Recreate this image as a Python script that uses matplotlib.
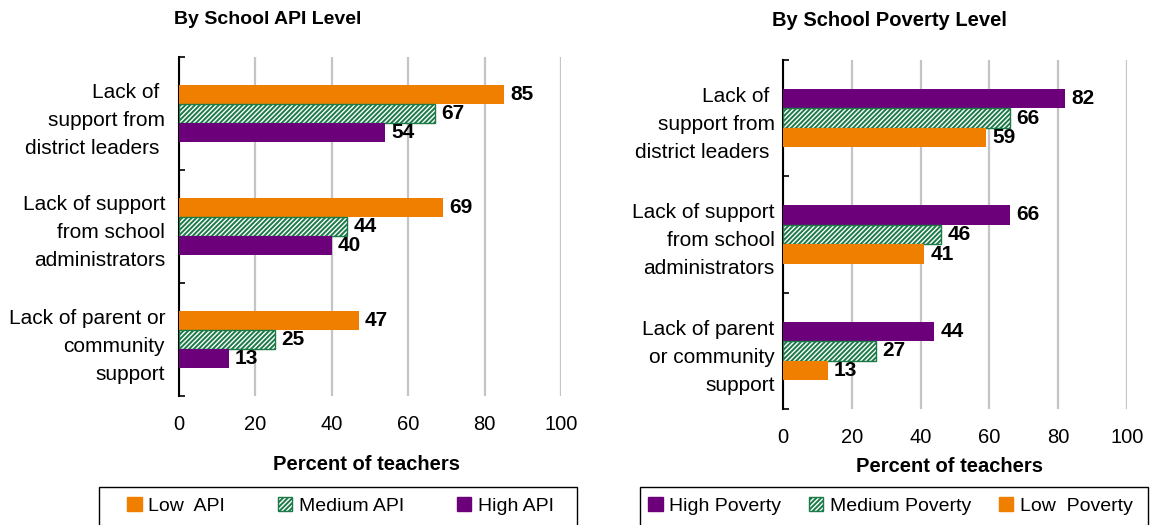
import matplotlib.pyplot as plt
from matplotlib.patches import Patch, Rectangle

plt.rcParams['font.family'] = ['Liberation Sans', 'DejaVu Sans']
plt.rcParams['hatch.linewidth'] = 1.4

# data
categories = ['Lack of \nsupport from\ndistrict leaders ',
              'Lack of support\nfrom school\nadministrators',
              'Lack of parent or\ncommunity\nsupport']
categories_pov = ['Lack of \nsupport from\ndistrict leaders ',
                  'Lack of support\nfrom school\nadministrators',
                  'Lack of parent\nor community\nsupport']

api_names = ['Low  API', 'Medium API', 'High API']
api_low = [85, 69, 47]
api_medium = [67, 44, 25]
api_high = [54, 40, 13]

pov_names = ['High Poverty', 'Medium Poverty', 'Low  Poverty']
pov_high = [82, 66, 44]
pov_medium = [66, 46, 27]
pov_low = [59, 41, 13]

ORANGE = '#F07F00'
PURPLE = '#6C007B'
GREEN = '#1B7A47'

W, H = 1151, 525
fig = plt.figure(figsize=(W / 100, H / 100), dpi=100)


def px_axes(x0, x1, y0, y1):
    return fig.add_axes([x0 / W, 1 - y1 / H, (x1 - x0) / W, (y1 - y0) / H])


def draw_panel(ax, labels, series, styles, label_pad):
    bh = 0.168
    offsets = [-bh, 0, bh]
    centers = [0.5, 1.5, 2.5]
    for vals, off, st in zip(series, offsets, styles):
        ys = [c + off for c in centers]
        ax.barh(ys, vals, height=bh, zorder=3, **st)
        for y, v in zip(ys, vals):
            ax.annotate(str(v), (v, y), xytext=(4.5, 0), textcoords='offset points',
                        ha='left', va='center', fontsize=15, fontweight='bold')
    ax.set_xlim(0, 100)
    ax.set_ylim(3, 0)
    ax.set_xticks([0, 20, 40, 60, 80, 100])
    ax.tick_params(axis='x', length=0, labelsize=14.5, pad=14)
    ax.set_yticks([0, 1, 2, 3])
    ax.set_yticklabels([])
    ax.tick_params(axis='y', which='major', direction='in', length=4, width=1.2)
    ax.set_yticks(centers, minor=True)
    ax.set_yticklabels(labels, minor=True, fontsize=15, linespacing=1.6,
                       multialignment='right')
    ax.tick_params(axis='y', which='minor', length=0, pad=label_pad)
    for s in ['top', 'right', 'bottom']:
        ax.spines[s].set_visible(False)
    ax.spines['left'].set_linewidth(1.5)
    ax.grid(axis='x', color='#C4C4C4', linewidth=1.6, zorder=0)
    ax.set_axisbelow(True)


def px_legend(handles, names, frame_x0, frame_x1, x0, x1):
    fig.patches.append(Rectangle((frame_x0 / W, -0.01), (frame_x1 - frame_x0) / W,
                                 1 - 487 / H + 0.01, transform=fig.transFigure,
                                 facecolor='none', edgecolor='black', linewidth=1.0))
    fig.legend(handles, names, ncol=3, loc='center left', mode='expand',
               bbox_to_anchor=(x0 / W, 1 - 517 / H, (x1 - x0) / W, 22 / H),
               fontsize=14, handlelength=0.75, handleheight=0.75,
               handletextpad=0.35, borderaxespad=0, borderpad=0, frameon=False)


st_orange = dict(color=ORANGE)
st_purple = dict(color=PURPLE)
st_green = dict(facecolor='white', edgecolor=GREEN, hatch='///////', linewidth=1.0)

ax1 = px_axes(179, 561, 57, 396)
draw_panel(ax1, categories, [api_low, api_medium, api_high],
           [st_orange, st_green, st_purple], 10)

ax2 = px_axes(783, 1127, 60, 409)
draw_panel(ax2, categories_pov, [pov_high, pov_medium, pov_low],
           [st_purple, st_green, st_orange], 6)

fig.text(268 / W, 1 - 20 / H, 'By School API Level', ha='center', va='center',
         fontsize=14, fontweight='bold')
fig.text(889 / W, 1 - 20 / H, 'By School Poverty Level', ha='center', va='center',
         fontsize=14.5, fontweight='bold')
fig.text(366 / W, 1 - 465 / H, 'Percent of teachers', ha='center', va='center',
         fontsize=14.5, fontweight='bold')
fig.text(949 / W, 1 - 467 / H, 'Percent of teachers', ha='center', va='center',
         fontsize=14.5, fontweight='bold')

h_api = [Patch(**st_orange), Patch(**st_green), Patch(**st_purple)]
h_pov = [Patch(**st_purple), Patch(**st_green), Patch(**st_orange)]

px_legend(h_api, api_names, 99, 577, 127, 554)
px_legend(h_pov, pov_names, 640, 1148, 648, 1133)

fig.savefig('out.png', dpi=100)
